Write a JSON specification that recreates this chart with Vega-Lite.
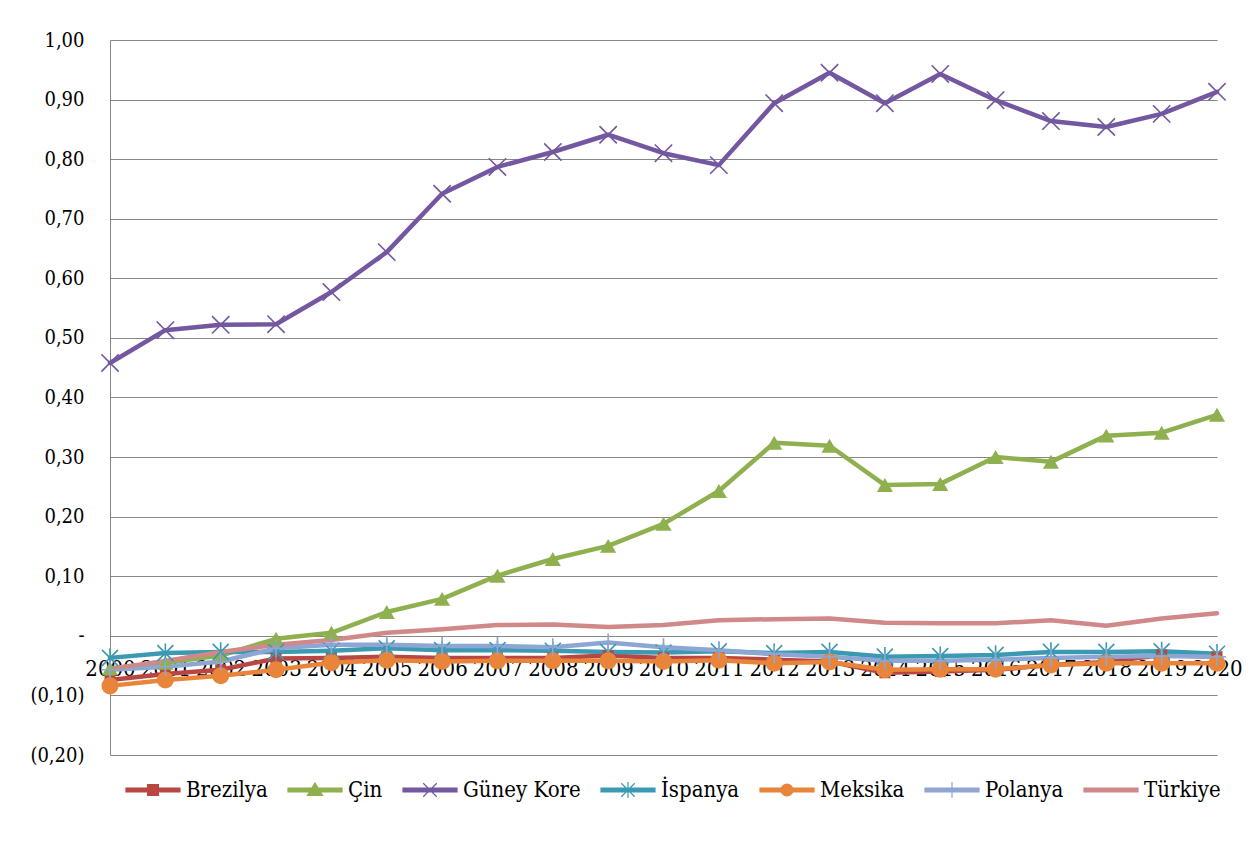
{
  "$schema": "https://vega.github.io/schema/vega-lite/v6.json",
  "width": 1107,
  "height": 715,
  "autosize": "none",
  "padding": {"left": 110, "top": 40, "right": 36, "bottom": 95},
  "background": "white",
  "config": {"view": {"stroke": null}, "font": "DejaVu Serif Condensed, DejaVu Serif"},
  "datasets": {
    "d": [
      {"c": "Brezilya", "year": "2000", "v": -0.074}, {"c": "Brezilya", "year": "2001", "v": -0.064}, {"c": "Brezilya", "year": "2002", "v": -0.057}, {"c": "Brezilya", "year": "2003", "v": -0.038}, {"c": "Brezilya", "year": "2004", "v": -0.037}, {"c": "Brezilya", "year": "2005", "v": -0.035}, {"c": "Brezilya", "year": "2006", "v": -0.037}, {"c": "Brezilya", "year": "2007", "v": -0.037}, {"c": "Brezilya", "year": "2008", "v": -0.037}, {"c": "Brezilya", "year": "2009", "v": -0.033}, {"c": "Brezilya", "year": "2010", "v": -0.037}, {"c": "Brezilya", "year": "2011", "v": -0.037}, {"c": "Brezilya", "year": "2012", "v": -0.040}, {"c": "Brezilya", "year": "2013", "v": -0.043}, {"c": "Brezilya", "year": "2014", "v": -0.062}, {"c": "Brezilya", "year": "2015", "v": -0.060}, {"c": "Brezilya", "year": "2016", "v": -0.057}, {"c": "Brezilya", "year": "2017", "v": -0.049}, {"c": "Brezilya", "year": "2018", "v": -0.044}, {"c": "Brezilya", "year": "2019", "v": -0.032}, {"c": "Brezilya", "year": "2020", "v": -0.035},
      {"c": "Çin", "year": "2000", "v": -0.055}, {"c": "Çin", "year": "2001", "v": -0.045}, {"c": "Çin", "year": "2002", "v": -0.033}, {"c": "Çin", "year": "2003", "v": -0.005}, {"c": "Çin", "year": "2004", "v": 0.005}, {"c": "Çin", "year": "2005", "v": 0.040}, {"c": "Çin", "year": "2006", "v": 0.062}, {"c": "Çin", "year": "2007", "v": 0.101}, {"c": "Çin", "year": "2008", "v": 0.129}, {"c": "Çin", "year": "2009", "v": 0.151}, {"c": "Çin", "year": "2010", "v": 0.188}, {"c": "Çin", "year": "2011", "v": 0.243}, {"c": "Çin", "year": "2012", "v": 0.324}, {"c": "Çin", "year": "2013", "v": 0.319}, {"c": "Çin", "year": "2014", "v": 0.253}, {"c": "Çin", "year": "2015", "v": 0.255}, {"c": "Çin", "year": "2016", "v": 0.300}, {"c": "Çin", "year": "2017", "v": 0.292}, {"c": "Çin", "year": "2018", "v": 0.336}, {"c": "Çin", "year": "2019", "v": 0.341}, {"c": "Çin", "year": "2020", "v": 0.371},
      {"c": "Güney Kore", "year": "2000", "v": 0.458}, {"c": "Güney Kore", "year": "2001", "v": 0.513}, {"c": "Güney Kore", "year": "2002", "v": 0.522}, {"c": "Güney Kore", "year": "2003", "v": 0.523}, {"c": "Güney Kore", "year": "2004", "v": 0.577}, {"c": "Güney Kore", "year": "2005", "v": 0.644}, {"c": "Güney Kore", "year": "2006", "v": 0.742}, {"c": "Güney Kore", "year": "2007", "v": 0.787}, {"c": "Güney Kore", "year": "2008", "v": 0.812}, {"c": "Güney Kore", "year": "2009", "v": 0.841}, {"c": "Güney Kore", "year": "2010", "v": 0.810}, {"c": "Güney Kore", "year": "2011", "v": 0.790}, {"c": "Güney Kore", "year": "2012", "v": 0.894}, {"c": "Güney Kore", "year": "2013", "v": 0.945}, {"c": "Güney Kore", "year": "2014", "v": 0.894}, {"c": "Güney Kore", "year": "2015", "v": 0.943}, {"c": "Güney Kore", "year": "2016", "v": 0.899}, {"c": "Güney Kore", "year": "2017", "v": 0.864}, {"c": "Güney Kore", "year": "2018", "v": 0.854}, {"c": "Güney Kore", "year": "2019", "v": 0.876}, {"c": "Güney Kore", "year": "2020", "v": 0.913},
      {"c": "İspanya", "year": "2000", "v": -0.037}, {"c": "İspanya", "year": "2001", "v": -0.029}, {"c": "İspanya", "year": "2002", "v": -0.027}, {"c": "İspanya", "year": "2003", "v": -0.027}, {"c": "İspanya", "year": "2004", "v": -0.025}, {"c": "İspanya", "year": "2005", "v": -0.021}, {"c": "İspanya", "year": "2006", "v": -0.024}, {"c": "İspanya", "year": "2007", "v": -0.024}, {"c": "İspanya", "year": "2008", "v": -0.025}, {"c": "İspanya", "year": "2009", "v": -0.027}, {"c": "İspanya", "year": "2010", "v": -0.028}, {"c": "İspanya", "year": "2011", "v": -0.026}, {"c": "İspanya", "year": "2012", "v": -0.029}, {"c": "İspanya", "year": "2013", "v": -0.027}, {"c": "İspanya", "year": "2014", "v": -0.035}, {"c": "İspanya", "year": "2015", "v": -0.034}, {"c": "İspanya", "year": "2016", "v": -0.032}, {"c": "İspanya", "year": "2017", "v": -0.027}, {"c": "İspanya", "year": "2018", "v": -0.027}, {"c": "İspanya", "year": "2019", "v": -0.026}, {"c": "İspanya", "year": "2020", "v": -0.030},
      {"c": "Meksika", "year": "2000", "v": -0.084}, {"c": "Meksika", "year": "2001", "v": -0.074}, {"c": "Meksika", "year": "2002", "v": -0.067}, {"c": "Meksika", "year": "2003", "v": -0.057}, {"c": "Meksika", "year": "2004", "v": -0.045}, {"c": "Meksika", "year": "2005", "v": -0.041}, {"c": "Meksika", "year": "2006", "v": -0.043}, {"c": "Meksika", "year": "2007", "v": -0.042}, {"c": "Meksika", "year": "2008", "v": -0.042}, {"c": "Meksika", "year": "2009", "v": -0.042}, {"c": "Meksika", "year": "2010", "v": -0.043}, {"c": "Meksika", "year": "2011", "v": -0.041}, {"c": "Meksika", "year": "2012", "v": -0.046}, {"c": "Meksika", "year": "2013", "v": -0.044}, {"c": "Meksika", "year": "2014", "v": -0.057}, {"c": "Meksika", "year": "2015", "v": -0.056}, {"c": "Meksika", "year": "2016", "v": -0.056}, {"c": "Meksika", "year": "2017", "v": -0.049}, {"c": "Meksika", "year": "2018", "v": -0.046}, {"c": "Meksika", "year": "2019", "v": -0.046}, {"c": "Meksika", "year": "2020", "v": -0.046},
      {"c": "Polanya", "year": "2000", "v": -0.057}, {"c": "Polanya", "year": "2001", "v": -0.052}, {"c": "Polanya", "year": "2002", "v": -0.043}, {"c": "Polanya", "year": "2003", "v": -0.021}, {"c": "Polanya", "year": "2004", "v": -0.015}, {"c": "Polanya", "year": "2005", "v": -0.015}, {"c": "Polanya", "year": "2006", "v": -0.017}, {"c": "Polanya", "year": "2007", "v": -0.017}, {"c": "Polanya", "year": "2008", "v": -0.019}, {"c": "Polanya", "year": "2009", "v": -0.011}, {"c": "Polanya", "year": "2010", "v": -0.019}, {"c": "Polanya", "year": "2011", "v": -0.024}, {"c": "Polanya", "year": "2012", "v": -0.031}, {"c": "Polanya", "year": "2013", "v": -0.035}, {"c": "Polanya", "year": "2014", "v": -0.042}, {"c": "Polanya", "year": "2015", "v": -0.042}, {"c": "Polanya", "year": "2016", "v": -0.040}, {"c": "Polanya", "year": "2017", "v": -0.037}, {"c": "Polanya", "year": "2018", "v": -0.035}, {"c": "Polanya", "year": "2019", "v": -0.034}, {"c": "Polanya", "year": "2020", "v": -0.035},
      {"c": "Türkiye", "year": "2000", "v": -0.055}, {"c": "Türkiye", "year": "2001", "v": -0.042}, {"c": "Türkiye", "year": "2002", "v": -0.027}, {"c": "Türkiye", "year": "2003", "v": -0.015}, {"c": "Türkiye", "year": "2004", "v": -0.007}, {"c": "Türkiye", "year": "2005", "v": 0.005}, {"c": "Türkiye", "year": "2006", "v": 0.011}, {"c": "Türkiye", "year": "2007", "v": 0.018}, {"c": "Türkiye", "year": "2008", "v": 0.019}, {"c": "Türkiye", "year": "2009", "v": 0.015}, {"c": "Türkiye", "year": "2010", "v": 0.018}, {"c": "Türkiye", "year": "2011", "v": 0.026}, {"c": "Türkiye", "year": "2012", "v": 0.028}, {"c": "Türkiye", "year": "2013", "v": 0.029}, {"c": "Türkiye", "year": "2014", "v": 0.022}, {"c": "Türkiye", "year": "2015", "v": 0.021}, {"c": "Türkiye", "year": "2016", "v": 0.021}, {"c": "Türkiye", "year": "2017", "v": 0.026}, {"c": "Türkiye", "year": "2018", "v": 0.017}, {"c": "Türkiye", "year": "2019", "v": 0.029}, {"c": "Türkiye", "year": "2020", "v": 0.038}
    ]
  },
  "data": {"name": "d"},
  "encoding": {
    "x": {
      "field": "year", "type": "ordinal",
      "scale": {"type": "point", "padding": 0},
      "axis": {"orient": "bottom", "offset": -119, "domain": false, "ticks": false, "grid": false, "labelAngle": 0, "labelFont": "DejaVu Serif Condensed, DejaVu Serif", "labelFontSize": 22, "labelColor": "black", "labelPadding": 22, "labelOverlap": false, "title": null}
    },
    "y": {
      "field": "v", "type": "quantitative",
      "scale": {"domain": [-0.2, 1.0], "nice": false, "zero": false},
      "axis": {
        "values": [-0.2, -0.1, 0, 0.1, 0.2, 0.3, 0.4, 0.5, 0.6, 0.7, 0.8, 0.9, 1.0],
        "labelExpr": "datum.value == 0 ? '-   ' : (datum.value < 0 ? '(' + replace(format(-datum.value, '.2f'), '.', ',') + ')' : replace(format(datum.value, '.2f'), '.', ',') + ' ')",
        "labelFont": "DejaVu Serif Condensed, DejaVu Serif", "labelFontSize": 20, "labelColor": "black", "labelPadding": 26,
        "ticks": false, "grid": true, "gridColor": "#878787", "gridWidth": 1,
        "domain": true, "domainColor": "#878787", "domainWidth": 1, "title": null
      }
    },
    "color": {
      "field": "c", "type": "nominal",
      "scale": {
        "domain": ["Brezilya", "Çin", "Güney Kore", "İspanya", "Meksika", "Polanya", "Türkiye"],
        "range": ["#B94643", "#8FB04F", "#7357A0", "#3B9AB2", "#E8853A", "#8DA6D4", "#D08888"]
      },
      "legend": {
        "orient": "none", "legendX": 15, "legendY": 722, "direction": "horizontal", "title": null,
        "labelFont": "DejaVu Serif Condensed, DejaVu Serif", "labelFontSize": 22, "labelColor": "black", "labelOffset": 5,
        "columnPadding": 17, "symbolSize": 2916, "symbolStrokeWidth": 1.2,
        "encode": {
          "symbols": {
            "update": {
              "shape": {"signal": "datum.value == 'Brezilya' ? 'M-1,-0.07H1V0.07H-1ZM-0.2,-0.2H0.2V0.2H-0.2Z' : datum.value == 'Çin' ? 'M-1,-0.07H1V0.07H-1ZM0,-0.26L0.28,0.2L-0.28,0.2Z' : datum.value == 'Güney Kore' ? 'M-1,-0.07H1V0.07H-1ZM-0.25,-0.25L0.25,0.25M-0.25,0.25L0.25,-0.25' : datum.value == 'İspanya' ? 'M-1,-0.07H1V0.07H-1ZM-0.25,-0.25L0.25,0.25M-0.25,0.25L0.25,-0.25M0,-0.3V0.3' : datum.value == 'Meksika' ? 'M-1,-0.07H1V0.07H-1ZM0.22,0A0.22,0.22,0,1,1,-0.22,0A0.22,0.22,0,1,1,0.22,0Z' : datum.value == 'Polanya' ? 'M-1,-0.07H1V0.07H-1ZM0,-0.3V0.3' : 'M-1,-0.07H1V0.07H-1Z'"},
              "fill": {"scale": "color", "field": "value"},
              "stroke": {"scale": "color", "field": "value"},
              "strokeWidth": {"value": 1.2},
              "opacity": {"value": 1}
            }
          }
        }
      }
    }
  },
  "layer": [
    {"mark": {"type": "line", "strokeWidth": 4.5, "strokeJoin": "round", "strokeCap": "round"}},
    {"transform": [{"filter": {"field": "c", "equal": "Brezilya"}}], "mark": {"type": "point", "shape": "square", "filled": true, "size": 121, "opacity": 1}, "encoding": {"color": {"value": "#B94643"}}},
    {"transform": [{"filter": {"field": "c", "equal": "Çin"}}], "mark": {"type": "point", "shape": "triangle-up", "filled": true, "size": 260, "opacity": 1}, "encoding": {"color": {"value": "#8FB04F"}}},
    {"transform": [{"filter": {"field": "c", "equal": "Güney Kore"}}], "mark": {"type": "point", "shape": "M-1,-1L1,1M-1,1L1,-1", "filled": false, "size": 300, "strokeWidth": 1.6, "opacity": 1}, "encoding": {"color": {"value": "#7357A0"}}},
    {"transform": [{"filter": {"field": "c", "equal": "İspanya"}}], "mark": {"type": "point", "shape": "M-1,-1L1,1M-1,1L1,-1M0,-1.2V1.2", "filled": false, "size": 256, "strokeWidth": 1.6, "opacity": 1}, "encoding": {"color": {"value": "#3B9AB2"}}},
    {"transform": [{"filter": {"field": "c", "equal": "Meksika"}}], "mark": {"type": "point", "shape": "circle", "filled": true, "size": 290, "opacity": 1}, "encoding": {"color": {"value": "#E8853A"}}},
    {"transform": [{"filter": {"field": "c", "equal": "Polanya"}}], "mark": {"type": "point", "shape": "M-1,0H1M0,-1V1", "filled": false, "size": 324, "strokeWidth": 1.6, "opacity": 1}, "encoding": {"color": {"value": "#8DA6D4"}}}
  ]
}
